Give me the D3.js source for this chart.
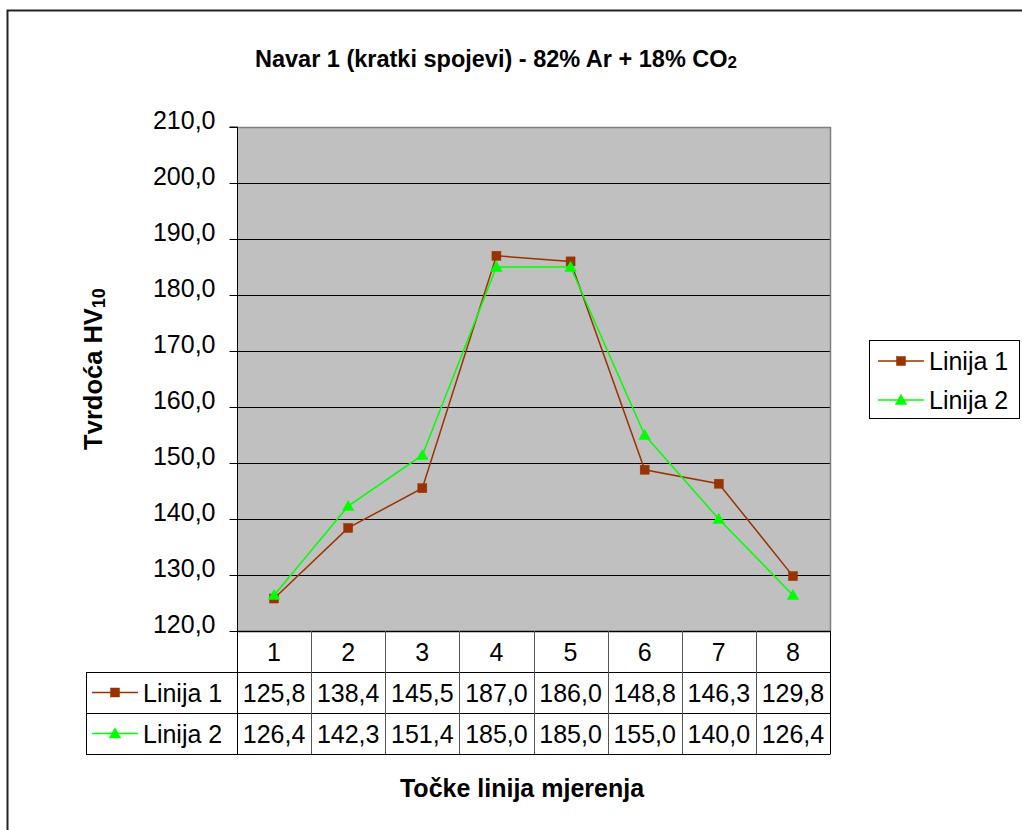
<!DOCTYPE html>
<html>
<head>
<meta charset="utf-8">
<script src="https://cdn.jsdelivr.net/npm/d3@7"></script>
<style>
  html, body { margin: 0; padding: 0; background: #fff; }
  svg { display: block; font-family: "Liberation Sans", Arial, sans-serif; }
</style>
</head>
<body>
<svg id="chart" width="1022" height="830"></svg>
<script>
// Measurement points along the weld
const categories = ["1", "2", "3", "4", "5", "6", "7", "8"];
const linija1 = [125.8, 138.4, 145.5, 187.0, 186.0, 148.8, 146.3, 129.8];
const linija2 = [126.4, 142.3, 151.4, 185.0, 185.0, 155.0, 140.0, 126.4];
const yTicks = [120, 130, 140, 150, 160, 170, 180, 190, 200, 210];
const seriesNames = ["Linija 1", "Linija 2"];
const seriesColors = ["#993300", "#00FF00"];

const series = [
  { name: seriesNames[0], values: linija1, color: seriesColors[0], marker: "square" },
  { name: seriesNames[1], values: linija2, color: seriesColors[1], marker: "triangle" }
];

const FS = 25;           // body text size
const fmt = v => d3.format(".1f")(v).replace(".", ",");

const svg = d3.select("#chart");

// outer chart frame
svg.append("rect")
  .attr("x", 7.5).attr("y", 10.5)
  .attr("width", 1030).attr("height", 840)
  .attr("fill", "none").attr("stroke", "#222").attr("stroke-width", 2);

const plot = { left: 237, top: 127, right: 830, bottom: 631 };

const x = d3.scaleBand().domain(categories).range([plot.left, plot.right]);
const y = d3.scaleLinear().domain([120, 210]).range([plot.bottom, plot.top]);

// plot background
svg.append("rect")
  .attr("x", plot.left).attr("y", plot.top)
  .attr("width", plot.right - plot.left).attr("height", plot.bottom - plot.top)
  .attr("fill", "#C0C0C0");

// horizontal gridlines
svg.append("g").selectAll("line")
  .data(yTicks.filter(t => t > 120 && t < 210))
  .join("line")
  .attr("x1", plot.left).attr("x2", plot.right)
  .attr("y1", d => Math.round(y(d)) + 0.5).attr("y2", d => Math.round(y(d)) + 0.5)
  .attr("stroke", "#000").attr("stroke-width", 1);

// plot border (top & right grey)
svg.append("path")
  .attr("d", `M${plot.left},${plot.top + 0.5}H${plot.right + 0.5}V${plot.bottom}`)
  .attr("fill", "none").attr("stroke", "#808080").attr("stroke-width", 1.5);

// y axis
const yAxis = d3.axisLeft(y).tickValues(yTicks).tickSize(8).tickPadding(14).tickFormat(fmt);
const yg = svg.append("g")
  .attr("transform", `translate(${plot.left + 0.5},0)`)
  .call(yAxis);
yg.select(".domain").attr("stroke", "#000").attr("d", `M-8,${plot.top}H0V${plot.bottom}`);
yg.selectAll(".tick line").attr("stroke", "#000");
yg.selectAll(".tick text")
  .attr("font-size", FS).attr("fill", "#000")
  .attr("font-family", "Liberation Sans, Arial, sans-serif")
  .attr("dy", "0.05em");

// data table below the plot
const tableLeft = 86;
const rowTops = [631, 672, 713, 754];
const tg = svg.append("g").attr("stroke", "#000").attr("stroke-width", 1);
tg.append("line").attr("x1", plot.left).attr("x2", plot.right + 0.5)
  .attr("y1", rowTops[0] + 0.5).attr("y2", rowTops[0] + 0.5).attr("stroke-width", 1.5);
[1, 2, 3].forEach(i => {
  tg.append("line").attr("x1", tableLeft).attr("x2", plot.right + 0.5)
    .attr("y1", rowTops[i] + 0.5).attr("y2", rowTops[i] + 0.5);
});
const colEdges = categories.map(c => x(c)).concat([plot.right]);
colEdges.forEach((xe, i) => {
  tg.append("line")
    .attr("x1", Math.round(xe) + 0.5).attr("x2", Math.round(xe) + 0.5)
    .attr("y1", i === 0 ? plot.top : rowTops[0]).attr("y2", rowTops[3])
    .attr("stroke", i === 0 || i === categories.length ? "#000" : "#555");
});
tg.append("line").attr("x1", tableLeft + 0.5).attr("x2", tableLeft + 0.5)
  .attr("y1", rowTops[1]).attr("y2", rowTops[3]);

// category header labels
svg.append("g").selectAll("text")
  .data(categories).join("text")
  .attr("x", d => x(d) + x.bandwidth() / 2)
  .attr("y", (rowTops[0] + rowTops[1]) / 2 + 9)
  .attr("text-anchor", "middle").attr("font-size", FS).attr("fill", "#000")
  .text(d => d);

// markers
function drawMarker(g, type, cx, cy, color, size) {
  if (type === "square") {
    g.append("rect").attr("x", cx - size / 2).attr("y", cy - size / 2)
      .attr("width", size).attr("height", size).attr("fill", color)
      .attr("stroke", color).attr("stroke-width", 0.5);
  } else {
    const s = size * 1.15;
    g.append("path")
      .attr("d", `M${cx},${cy - s * 0.6}L${cx + s * 0.6},${cy + s * 0.45}L${cx - s * 0.6},${cy + s * 0.45}Z`)
      .attr("fill", color);
  }
}

// series rows in the table
series.forEach((s, i) => {
  const cy = (rowTops[i + 1] + rowTops[i + 2]) / 2;
  const row = svg.append("g");
  row.append("line").attr("x1", 92).attr("x2", 138).attr("y1", cy).attr("y2", cy)
    .attr("stroke", s.color).attr("stroke-width", 1.5);
  drawMarker(row, s.marker, 115, cy, s.color, 9);
  row.append("text").attr("x", 143).attr("y", cy + 9)
    .attr("font-size", FS).attr("fill", "#000").text(s.name);
  row.selectAll("text.v").data(s.values).join("text").attr("class", "v")
    .attr("x", (d, j) => x(categories[j]) + x.bandwidth() / 2)
    .attr("y", cy + 9)
    .attr("text-anchor", "middle").attr("font-size", FS).attr("fill", "#000")
    .text(d => fmt(d));
});

// lines and markers in plot
const line = d3.line()
  .x((d, j) => x(categories[j]) + x.bandwidth() / 2)
  .y(d => y(d));

series.forEach(s => {
  svg.append("path").datum(s.values)
    .attr("d", line).attr("fill", "none")
    .attr("stroke", s.color).attr("stroke-width", 1.5);
});
series.forEach(s => {
  const g = svg.append("g");
  s.values.forEach((v, j) => {
    drawMarker(g, s.marker, x(categories[j]) + x.bandwidth() / 2, y(v), s.color, 9);
  });
});

// legend
const lg = svg.append("g");
lg.append("rect").attr("x", 869.5).attr("y", 340.5).attr("width", 150).attr("height", 78)
  .attr("fill", "#fff").attr("stroke", "#000").attr("stroke-width", 1);
series.forEach((s, i) => {
  const cy = 361 + i * 39;
  lg.append("line").attr("x1", 878).attr("x2", 924).attr("y1", cy).attr("y2", cy)
    .attr("stroke", s.color).attr("stroke-width", 1.5);
  drawMarker(lg, s.marker, 901, cy, s.color, 9);
  lg.append("text").attr("x", 929).attr("y", cy + 9)
    .attr("font-size", FS).attr("fill", "#000").text(s.name);
});

// title
const title = svg.append("text")
  .attr("x", 496).attr("y", 67)
  .attr("text-anchor", "middle").attr("font-size", 23.5).attr("font-weight", "bold")
  .attr("fill", "#000");
title.append("tspan").text("Navar 1 (kratki spojevi) - 82% Ar + 18% CO");
title.append("tspan").attr("font-size", 17).attr("dy", 1).text("2");

// y axis title
const yt = svg.append("text")
  .attr("transform", "translate(102,369) rotate(-90)")
  .attr("text-anchor", "middle").attr("font-size", 25.5).attr("font-weight", "bold")
  .attr("fill", "#000");
yt.append("tspan").text("Tvrdoća HV");
yt.append("tspan").attr("font-size", 18).attr("dy", 3).text("10");

// x axis title
svg.append("text")
  .attr("x", 522).attr("y", 797)
  .attr("text-anchor", "middle").attr("font-size", 25).attr("font-weight", "bold")
  .attr("fill", "#000").text("Točke linija mjerenja");
</script>
</body>
</html>
